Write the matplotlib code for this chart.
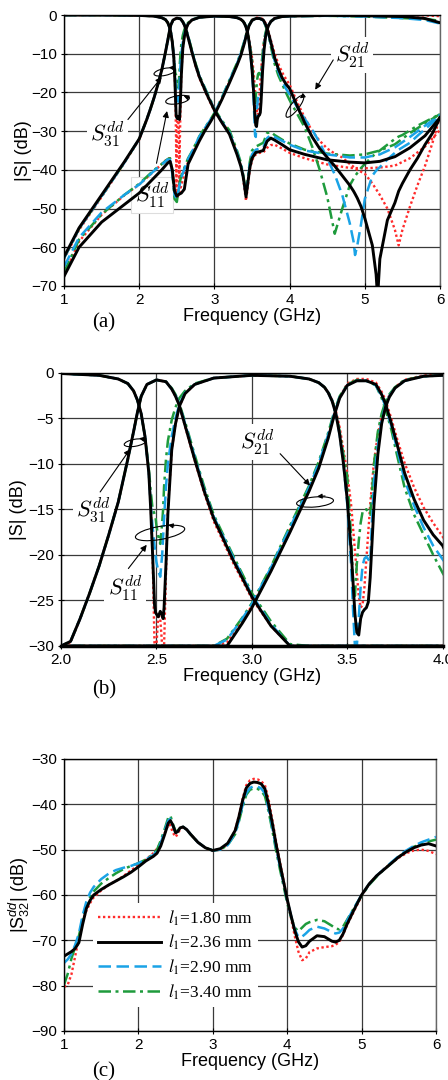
import numpy as np
import matplotlib
matplotlib.use('Agg')
import matplotlib.pyplot as plt
import matplotlib.transforms as mtransforms
from matplotlib.patches import Ellipse

plt.rcParams['font.family'] = ['Liberation Sans', 'DejaVu Sans']
plt.rcParams['mathtext.fontset'] = 'custom'
plt.rcParams['mathtext.rm'] = 'Liberation Sans'
plt.rcParams['mathtext.it'] = 'Liberation Sans:italic'

# legend labels, order: 1.80, 2.36, 2.90, 3.40 mm
l1_values = ['1.80', '2.36', '2.90', '3.40']

# ---- |S11| (GHz / dB) ----
f11 = [1.0, 1.5, 2.0, 2.2, 2.3, 2.35, 2.38, 2.40, 2.42, 2.44,
       2.46, 2.47, 2.48, 2.49, 2.495, 2.50, 2.51, 2.52, 2.53, 2.535,
       2.54, 2.55, 2.56, 2.58, 2.60, 2.62, 2.65, 2.70, 2.80, 3.0,
       3.2, 3.3, 3.35, 3.38, 3.40, 3.42, 3.44, 3.46, 3.48, 3.50,
       3.52, 3.53, 3.54, 3.55, 3.56, 3.57, 3.58, 3.59, 3.60, 3.61,
       3.62, 3.63, 3.64, 3.66, 3.68, 3.70, 3.72, 3.75, 3.80, 3.90,
       4.0, 4.5, 5.0, 5.5, 5.8, 6.0]
s11_180 = [0.0, 0.0, -0.1, -0.3, -0.7, -1.2, -2.0, -3.0, -4.5, -7.0,
           -11.0, -14.5, -20.0, -32.0, -46.0, -32.0, -26.5, -27.0, -33.0, -45.0,
           -33.0, -22.0, -15.0, -8.5, -5.6, -3.7, -2.3, -1.3, -0.6, -0.3,
           -0.4, -0.7, -1.1, -1.6, -2.2, -3.0, -4.2, -6.0, -8.5, -11.0,
           -14.5, -17.0, -19.5, -22.0, -24.5, -25.8, -25.5, -23.5, -20.5, -17.5,
           -14.5, -12.0, -9.8, -6.8, -4.8, -3.4, -2.5, -1.6, -0.8, -0.3,
           -0.2, 0.0, 0.0, -0.1, -0.1, -0.3]
s11_236 = [0.0, 0.0, -0.1, -0.3, -0.7, -1.2, -2.0, -3.0, -4.5, -7.0,
           -11.0, -15.0, -20.0, -25.5, -26.3, -26.5, -26.8, -26.2, -26.6, -27.0,
           -25.8, -21.0, -15.5, -8.5, -5.6, -3.7, -2.3, -1.3, -0.6, -0.3,
           -0.4, -0.7, -1.1, -1.6, -2.2, -3.1, -4.5, -6.8, -10.0, -14.0,
           -19.5, -23.0, -26.5, -28.5, -28.8, -27.0, -26.3, -26.0, -25.8, -25.2,
           -22.5, -18.5, -14.5, -9.0, -5.6, -3.8, -2.7, -1.7, -0.9, -0.4,
           -0.3, -0.1, -0.2, -0.4, -0.9, -2.0]
s11_290 = [0.0, 0.0, -0.1, -0.3, -0.7, -1.2, -2.0, -3.0, -4.5, -7.0,
           -11.0, -14.5, -17.0, -19.0, -20.0, -20.8, -21.8, -22.4, -20.0, -18.0,
           -16.0, -12.5, -10.0, -7.0, -5.0, -3.5, -2.2, -1.3, -0.6, -0.3,
           -0.4, -0.7, -1.1, -1.6, -2.2, -3.1, -4.5, -6.8, -10.0, -14.5,
           -21.0, -26.0, -31.0, -31.5, -27.0, -23.5, -21.2, -20.4, -20.2, -20.5,
           -20.8, -16.0, -12.0, -8.0, -5.2, -3.6, -2.6, -1.7, -0.9, -0.4,
           -0.3, -0.2, -0.4, -0.8, -1.3, -2.2]
s11_340 = [0.0, 0.0, -0.1, -0.3, -0.7, -1.2, -2.0, -3.0, -4.5, -7.0,
           -10.5, -13.0, -15.0, -15.5, -15.8, -16.8, -18.0, -18.8, -16.5, -15.0,
           -12.5, -9.5, -7.5, -5.2, -3.8, -2.8, -2.0, -1.2, -0.6, -0.3,
           -0.4, -0.7, -1.1, -1.6, -2.1, -3.0, -4.3, -6.5, -9.0, -11.5,
           -18.0, -23.0, -24.5, -21.0, -18.5, -16.5, -15.3, -15.0, -15.0, -15.3,
           -15.6, -13.0, -10.0, -6.5, -4.5, -3.2, -2.4, -1.6, -0.8, -0.4,
           -0.3, -0.2, -0.4, -0.8, -1.0, -1.5]

# ---- |S31| ----
f31 = [1.0, 1.2, 1.5, 1.8, 2.0, 2.05, 2.1, 2.15, 2.2, 2.25,
       2.3, 2.35, 2.38, 2.40, 2.42, 2.45, 2.50, 2.55, 2.58, 2.60,
       2.62, 2.65, 2.70, 2.75, 2.80, 2.90, 3.0, 3.1, 3.2, 3.3,
       3.35, 3.38, 3.40, 3.42, 3.44, 3.47, 3.50, 3.55, 3.60, 3.65,
       3.70, 3.75, 3.80, 3.90, 4.0, 4.2, 4.5, 4.8, 5.0, 5.2,
       5.4, 5.6, 5.8, 6.0]
s31_180 = [-63.0, -55.5, -47.0, -38.3, -32.2, -29.6, -27.0, -24.2, -21.2, -17.8,
           -14.2, -9.5, -6.5, -4.4, -2.6, -1.3, -0.8, -1.0, -1.8, -2.6,
           -3.6, -5.9, -9.6, -13.2, -16.3, -20.8, -24.8, -27.8, -30.2, -35.5,
           -39.0, -42.0, -45.0, -48.0, -45.0, -40.0, -37.5, -36.0, -35.6, -35.5,
           -34.3, -33.6, -33.5, -34.5, -35.6, -37.0, -38.6, -39.5, -39.6, -39.4,
           -38.9, -37.0, -34.0, -29.7]
s31_236 = [-62.5, -55.0, -46.5, -38.0, -32.0, -29.5, -27.0, -24.2, -21.2, -17.8,
           -14.2, -9.5, -6.5, -4.4, -2.6, -1.3, -0.8, -1.0, -1.8, -2.6,
           -3.6, -5.8, -9.5, -13.0, -16.0, -20.5, -24.6, -27.8, -30.8, -36.0,
           -39.0, -41.5, -44.0, -47.0, -44.0, -39.5, -37.0, -35.5, -35.3, -35.0,
           -32.6, -31.8, -32.3, -33.5, -34.8, -36.0, -37.4, -38.0, -38.2, -37.8,
           -36.6, -34.3, -31.2, -26.5]
s31_290 = [-62.8, -55.2, -46.8, -38.2, -32.0, -29.5, -27.0, -24.2, -21.2, -17.8,
           -14.2, -9.5, -6.5, -4.4, -2.6, -1.3, -0.8, -1.0, -1.8, -2.5,
           -3.5, -5.6, -9.2, -12.8, -15.8, -20.2, -24.4, -27.6, -30.4, -35.5,
           -38.5, -41.5, -44.0, -47.0, -43.5, -38.5, -36.0, -34.8, -34.5, -34.2,
           -31.8, -31.0, -31.5, -32.5, -33.5, -35.0, -36.0, -36.8, -36.8, -36.0,
           -34.2, -31.5, -28.6, -25.8]
s31_340 = [-62.8, -55.2, -46.8, -38.2, -32.0, -29.5, -27.0, -24.2, -21.2, -17.8,
           -14.2, -9.5, -6.5, -4.4, -2.6, -1.3, -0.8, -1.0, -1.7, -2.4,
           -3.4, -5.4, -9.0, -12.5, -15.6, -20.0, -24.2, -27.3, -29.8, -35.0,
           -38.0, -41.0, -43.5, -46.5, -43.0, -38.0, -35.0, -34.0, -33.5, -33.0,
           -30.5, -30.2, -31.0, -32.2, -33.2, -34.8, -35.8, -36.3, -36.0, -35.0,
           -33.4, -30.5, -28.0, -25.6]

# ---- |S21| ----
f21 = [1.0, 1.2, 1.5, 1.8, 2.0, 2.2, 2.3, 2.38, 2.41, 2.44,
       2.47, 2.50, 2.53, 2.56, 2.60, 2.65, 2.70, 2.80, 2.87, 2.95,
       3.0, 3.1, 3.2, 3.3, 3.35, 3.40, 3.43, 3.46, 3.50, 3.55,
       3.60, 3.65, 3.68, 3.70, 3.73, 3.76, 3.80, 3.85, 3.90, 3.95,
       4.0, 4.1, 4.2, 4.3, 4.4, 4.5, 4.6, 4.7, 4.8, 4.85,
       4.87, 4.9, 4.95, 5.0, 5.1, 5.15, 5.17, 5.2, 5.3, 5.4,
       5.45, 5.5, 5.6, 5.7, 5.8, 5.9, 6.0]
s21_180 = [-67.0, -58.5, -51.6, -46.6, -43.8, -40.3, -38.5, -37.0, -37.0, -40.0,
           -46.0, -47.5, -46.0, -44.0, -41.0, -38.0, -36.0, -32.0, -29.6, -27.2,
           -25.6, -21.6, -17.3, -12.8, -10.3, -7.0, -4.7, -2.7, -1.2, -0.7,
           -0.7, -1.1, -2.1, -3.0, -5.0, -7.2, -9.9, -12.6, -14.8, -16.5,
           -18.0, -22.5, -26.5, -30.0, -32.5, -34.5, -35.8, -36.8, -38.5, -39.2,
           -39.5, -40.0, -40.5, -41.0, -43.5, -45.0, -45.6, -46.5, -50.0, -55.5,
           -59.5, -55.5, -49.5, -44.0, -39.0, -33.0, -26.2]
s21_236 = [-67.5, -60.0, -53.5, -49.0, -46.0, -42.0, -40.0, -38.2, -37.8, -40.0,
           -45.5, -46.8, -46.3, -46.0, -45.0, -38.5, -36.5, -32.5, -30.0, -27.5,
           -25.8, -21.8, -17.5, -13.0, -10.5, -7.2, -4.8, -2.8, -1.4, -0.9,
           -0.9, -1.3, -2.4, -3.4, -5.5, -7.8, -11.0, -13.9, -16.2, -17.8,
           -19.0, -23.5, -27.8, -31.5, -34.5, -36.8, -39.0, -41.5, -44.0, -45.5,
           -46.2, -47.3, -49.5, -52.5, -59.5, -67.0, -73.0, -63.0, -53.0, -48.5,
           -45.5, -43.5, -40.0, -37.0, -33.5, -30.5, -26.5]
s21_290 = [-65.0, -57.5, -51.0, -46.5, -43.8, -40.2, -38.6, -37.3, -37.4, -41.0,
           -46.5, -47.5, -44.5, -42.0, -39.8, -37.2, -35.4, -31.4, -29.3, -27.0,
           -25.4, -21.4, -17.0, -12.6, -10.0, -6.8, -4.6, -2.7, -1.4, -0.9,
           -0.9, -1.4, -2.6, -3.7, -5.8, -8.3, -11.8, -14.6, -17.0, -19.0,
           -20.5, -23.8, -26.8, -29.6, -33.0, -37.0, -41.2, -46.5, -53.8, -58.5,
           -62.0, -59.5, -54.0, -47.5, -41.5, -40.2, -39.8, -39.3, -37.3, -35.6,
           -34.8, -34.2, -33.0, -31.2, -29.5, -27.8, -26.0]
s21_340 = [-66.5, -58.0, -51.5, -46.5, -43.6, -40.0, -38.5, -37.2, -37.0, -40.5,
           -47.5, -48.3, -44.0, -41.5, -39.5, -37.0, -35.3, -31.3, -29.2, -26.9,
           -25.3, -21.3, -16.8, -12.4, -9.8, -6.6, -4.4, -2.6, -1.3, -0.8,
           -0.9, -1.4, -2.8, -4.0, -6.2, -9.0, -12.6, -15.6, -17.8, -20.0,
           -22.0, -25.5, -29.0, -34.0, -40.0, -47.0, -56.5, -50.0, -44.0, -42.3,
           -41.6, -40.8, -39.5, -38.5, -36.5, -35.8, -35.5, -35.0, -33.5, -32.0,
           -31.4, -31.0, -29.8, -28.6, -27.6, -26.6, -25.6]

# ---- |S32| (panel c) ----
fc = [1.0, 1.05, 1.1, 1.15, 1.2, 1.25, 1.3, 1.35, 1.4, 1.5,
      1.6, 1.7, 1.8, 1.9, 2.0, 2.1, 2.2, 2.25, 2.3, 2.35,
      2.4, 2.43, 2.46, 2.5, 2.53, 2.56, 2.6, 2.65, 2.7, 2.8,
      2.9, 3.0, 3.1, 3.2, 3.3, 3.35, 3.4, 3.45, 3.5, 3.55,
      3.6, 3.65, 3.7, 3.75, 3.8, 3.85, 3.9, 3.95, 4.0, 4.05,
      4.1, 4.15, 4.2, 4.25, 4.3, 4.4, 4.5, 4.6, 4.65, 4.7,
      4.75, 4.8, 4.9, 5.0, 5.1, 5.2, 5.3, 5.4, 5.5, 5.6,
      5.7, 5.8, 5.9, 6.0]
s32_180 = [-80.3, -79.8, -77.5, -73.5, -69.5, -66.0, -63.5, -61.8, -60.5, -59.0,
           -57.8, -56.9, -55.8, -54.6, -53.4, -52.2, -50.8, -49.8, -48.5, -46.5,
           -44.6, -44.6, -46.2, -47.2, -46.5, -45.5, -45.0, -45.6, -46.6, -48.4,
           -49.6, -50.3, -50.0, -48.8, -45.8, -42.5, -38.8, -35.8, -34.7, -34.4,
           -34.5, -34.9, -35.8, -39.0, -43.5, -48.2, -52.6, -56.8, -61.0, -65.0,
           -69.0, -72.5, -74.4, -74.0, -72.6, -71.8, -71.5, -71.3, -71.0, -70.3,
           -68.8, -66.8, -63.5, -60.2, -57.6, -55.8, -54.3, -53.0, -51.8, -50.8,
           -50.2, -50.0, -50.3, -51.0]
s32_236 = [-73.5, -73.0, -72.5, -71.8, -70.5, -66.5, -63.0, -61.2, -60.0, -58.8,
           -57.8, -56.9, -56.0, -55.0, -53.8, -52.5, -51.5, -50.8, -49.2, -46.8,
           -44.2, -43.6, -44.5, -46.3, -46.0, -45.2, -45.0, -45.6, -46.6, -48.4,
           -49.6, -50.2, -49.8, -48.6, -45.8, -42.8, -39.2, -36.4, -35.4, -35.1,
           -35.2, -35.5, -36.6, -40.0, -44.2, -48.8, -53.0, -57.0, -61.0, -64.5,
           -67.8, -70.3, -71.5, -71.2, -70.2, -69.0, -69.2, -70.2, -70.4, -70.0,
           -68.6, -66.6, -63.2, -60.0, -57.6, -55.8, -54.4, -53.0, -51.6, -50.5,
           -49.6, -49.0, -48.7, -49.2]
s32_290 = [-75.0, -74.2, -73.0, -71.0, -68.5, -64.5, -61.5, -59.5, -58.2, -56.5,
           -55.3, -54.5, -54.0, -53.6, -53.0, -52.2, -51.2, -50.4, -48.6, -46.0,
           -43.6, -43.2, -44.6, -46.2, -46.0, -45.2, -45.0, -45.6, -46.6, -48.4,
           -49.6, -50.2, -50.0, -49.0, -46.4, -43.6, -40.2, -37.5, -36.4, -36.0,
           -36.1, -36.5, -37.6, -41.0, -45.2, -49.6, -53.6, -57.4, -61.2, -64.5,
           -67.5, -69.3, -69.2, -68.5, -67.7, -67.0, -67.4, -68.2, -68.5, -68.3,
           -67.4, -65.8, -62.8, -60.0, -57.6, -55.8, -54.3, -52.8, -51.4, -50.2,
           -49.2, -48.4, -47.8, -47.2]
s32_340 = [-79.8, -77.4, -74.0, -71.5, -69.0, -65.5, -62.5, -60.5, -59.2, -57.5,
           -56.3, -55.2, -54.3, -53.6, -53.0, -52.2, -51.0, -50.0, -48.0, -45.6,
           -43.0, -42.5, -44.2, -46.0, -45.8, -45.2, -45.0, -45.6, -46.6, -48.4,
           -49.6, -50.2, -50.0, -49.0, -46.6, -43.8, -40.6, -37.9, -36.8, -36.5,
           -36.6, -37.0, -38.2, -41.6, -45.8, -50.2, -54.2, -58.0, -61.8, -64.8,
           -67.2, -68.0, -67.2, -66.4, -66.0, -65.5, -65.8, -66.8, -67.4, -67.6,
           -67.0, -65.6, -62.8, -60.2, -57.8, -56.0, -54.4, -53.0, -51.6, -50.4,
           -49.4, -48.7, -48.2, -47.8]

s11_all = [s11_180, s11_236, s11_290, s11_340]
s21_all = [s21_180, s21_236, s21_290, s21_340]
s31_all = [s31_180, s31_236, s31_290, s31_340]
s32_all = [s32_180, s32_236, s32_290, s32_340]

styles = [
    dict(color='#ff2b2b', ls=(0, (1, 1.1)), lw=1.7, zorder=2.2),
    dict(color='black', ls='-', lw=2.1, zorder=2.8),
    dict(color='#1aa3e6', ls=(0, (5, 2.2)), lw=1.8, zorder=2.4),
    dict(color='#1e9b3c', ls=(0, (5, 1.8, 1.2, 1.8)), lw=1.8, zorder=2.3),
]

fig = plt.figure(figsize=(4.48, 10.8), dpi=100)
ax_a = fig.add_axes([0.1429, 0.7352, 0.8393, 0.2509])
ax_b = fig.add_axes([0.1362, 0.4019, 0.8520, 0.2531])
ax_c = fig.add_axes([0.1429, 0.0454, 0.8304, 0.2519])


def style_axes(ax, xt, yt, xlab, ylab, ylab_x):
    ax.set_axisbelow(True)
    ax.grid(True, color='#3a3a3a', lw=0.9)
    ax.set_xticks(xt)
    ax.set_yticks(yt)
    ax.set_xticklabels(xlab)
    ax.tick_params(direction='inout', length=5, width=0.8, labelsize=11, pad=2.5)
    for s in ax.spines.values():
        s.set_color('black')
        s.set_linewidth(1.0)
    ax.spines['right'].set_color('#666666')
    ax.set_xlabel('Frequency (GHz)', fontsize=13, labelpad=1)
    ax.set_ylabel(ylab, fontsize=13)
    ax.yaxis.set_label_coords(ylab_x, 0.5)


def loop(ax, f, db, w, h, ang, head):
    # small loop around a bundle of curves, sizes in pixels
    tr = fig.dpi_scale_trans + mtransforms.ScaledTranslation(f, db, ax.transData)
    ax.add_patch(Ellipse((0, 0), w / 100, h / 100, angle=ang, fill=False,
                         ec='black', lw=0.8, transform=tr, clip_on=False, zorder=6))
    (x0, y0), (x1, y1) = head
    ax.annotate('', xy=(x1 / 100, y1 / 100), xycoords=tr,
                xytext=(x0 / 100, y0 / 100), textcoords=tr,
                arrowprops=dict(arrowstyle='-|>', color='black', lw=0.8,
                                mutation_scale=7, shrinkA=0, shrinkB=0), zorder=6)


def pointer(ax, tail, tip):
    ax.annotate('', xy=tip, xytext=tail,
                arrowprops=dict(arrowstyle='-|>', color='black', lw=0.8,
                                mutation_scale=9, shrinkA=0, shrinkB=0), zorder=6)


def label(ax, f, db, txt, box_ec='none'):
    ax.text(f, db, txt, math_fontfamily='cm', fontsize=16, ha='center', va='center',
            zorder=1.8, bbox=dict(boxstyle='square,pad=0.15', fc='white', ec=box_ec, lw=0.8))


# ---- (a) ----
for st, y11, y21, y31 in zip(styles, s11_all, s21_all, s31_all):
    for fx, yy in ((f11, y11), (f21, y21), (f31, y31)):
        ax_a.plot(fx, yy, **st)
ax_a.set_xlim(1, 6)
ax_a.set_ylim(-70, 0)
style_axes(ax_a, [1, 2, 3, 4, 5, 6], np.arange(-70, 1, 10),
           ['1', '2', '3', '4', '5', '6'], '|S| (dB)', -0.085)
label(ax_a, 1.58, -30.9, r'$S^{dd}_{31}$')
label(ax_a, 2.17, -46.5, r'$S^{dd}_{11}$', box_ec='#dddddd')
label(ax_a, 4.83, -10.3, r'$S^{dd}_{21}$')
pointer(ax_a, (1.85, -27.0), (2.30, -16.0))
pointer(ax_a, (2.23, -38.3), (2.37, -24.8))
pointer(ax_a, (4.58, -11.6), (4.34, -19.3))
loop(ax_a, 2.34, -14.7, 22, 7, 12, ((9, 4), (4, 4.5)))
loop(ax_a, 2.51, -21.9, 24, 8, 10, ((11, 2), (6, 4)))
loop(ax_a, 4.07, -23.6, 27, 8, 52, ((9, 11), (5, 8)))

# ---- (b) ----
for st, y11, y21, y31 in zip(styles, s11_all, s21_all, s31_all):
    for fx, yy in ((f11, y11), (f21, y21), (f31, y31)):
        ax_b.plot(fx, np.clip(yy, -30, None), **st)
ax_b.set_xlim(2, 4)
ax_b.set_ylim(-30, 0)
style_axes(ax_b, [2.0, 2.5, 3.0, 3.5, 4.0], np.arange(-30, 1, 5),
           ['2.0', '2.5', '3.0', '3.5', '4.0'], '|S| (dB)', -0.088)
ax_b.spines['bottom'].set_linewidth(2.5)
label(ax_b, 2.17, -15.1, r'$S^{dd}_{31}$')
label(ax_b, 2.335, -23.7, r'$S^{dd}_{11}$')
label(ax_b, 3.03, -7.6, r'$S^{dd}_{21}$')
pointer(ax_b, (2.205, -13.1), (2.362, -8.4))
pointer(ax_b, (2.353, -21.5), (2.449, -18.9))
pointer(ax_b, (3.148, -8.9), (3.305, -12.4))
loop(ax_b, 2.388, -7.7, 22, 7, 10, ((9, 3.5), (4, 4.5)))
loop(ax_b, 2.519, -17.6, 50, 13, 10, ((14, 7), (8, 8)))
loop(ax_b, 3.331, -14.2, 37, 10, 5, ((10, 6), (2, 5.5)))

# ---- (c) ----
for st, lv, yy in zip(styles, l1_values, s32_all):
    ax_c.plot(fc, yy, label=r'$l_1$=' + lv + ' mm', **st)
ax_c.set_xlim(1, 6)
ax_c.set_ylim(-90, -30)
style_axes(ax_c, [1, 2, 3, 4, 5, 6], np.arange(-90, -29, 10),
           ['1', '2', '3', '4', '5', '6'], r'|S$^{dd}_{32}$| (dB)', -0.086)
leg = ax_c.legend(loc='upper left', bbox_to_anchor=(0.078, 0.47), frameon=True,
                  fancybox=False, framealpha=1, edgecolor='none', facecolor='white',
                  prop={'family': 'Liberation Serif', 'size': 12.5},
                  handlelength=3.6, handletextpad=0.4, labelspacing=0.3,
                  borderpad=0.3, borderaxespad=0)
for t in leg.get_texts():
    t.set_math_fontfamily('stix')

for txt, y in (('(a)', 323), ('(b)', 690), ('(c)', 1072)):
    fig.text(104 / 448, 1 - y / 1080, txt, family='Liberation Serif', fontsize=15,
             ha='center', va='center')

fig.savefig('out.png', dpi=100)
